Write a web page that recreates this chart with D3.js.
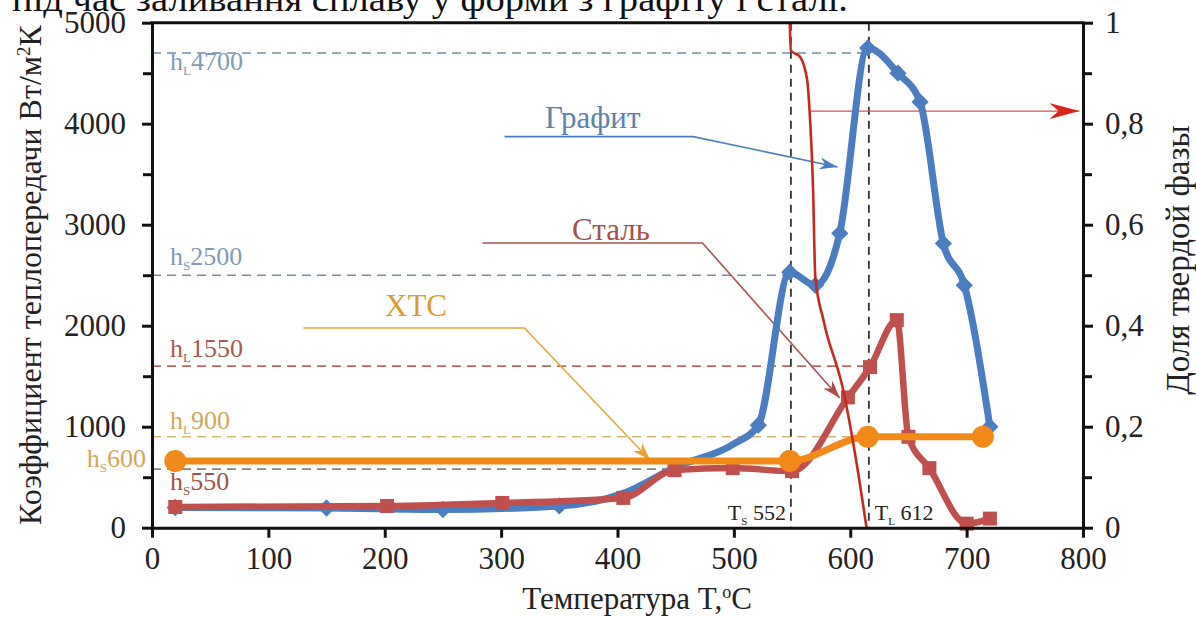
<!DOCTYPE html>
<html><head><meta charset="utf-8">
<script src="https://cdn.jsdelivr.net/npm/d3@7"></script>
<style>
html,body{margin:0;padding:0;background:#fff;}
svg{display:block;}
text{font-family:"Liberation Serif","Times New Roman",serif;}
</style></head>
<body>
<svg id="chart" width="1196" height="617"></svg>
<script>
// ---------- data ----------
const xTicks = [0,100,200,300,400,500,600,700,800];
const yTicks = [0,1000,2000,3000,4000,5000];
const yMinor = [500,1500,2500,3500,4500];
const y2Ticks = [0,0.2,0.4,0.6,0.8,1];
const y2Labels = ["0","0,2","0,4","0,6","0,8","1"];
const y2Minor = [0.1,0.3,0.5,0.7,0.9];

const graphiteT    = [20,150,250,350,405,450,500,521,548,570,591,615,641,660,680,698,720];
const graphiteH    = [200,195,180,215,340,600,830,1015,2530,2400,2915,4750,4500,4215,2815,2400,1000];
const graphiteMark = [1,1,1,1,0,0,0,1,1,1,1,1,1,1,1,1,1];

const steelT = [20,202,301,405,449,499,550,598,617,640,650,668,700,720];
const steelH = [205,215,245,295,570,590,560,1290,1590,2055,900,590,40,90];

const xtsT = [20,548,615,714];
const xtsH = [660,660,900,900];

const fracT = [548,549,557,563,565,568,570,577,594,604,614];
const fracV = [1.0,0.945,0.932,0.886,0.827,0.674,0.496,0.411,0.272,0.148,0.0];

const refH = [4700,2500,1600,900,580];
const refEndT = [615,549,616,616,549];
const refColors = ["#6f8fb0","#6f8fb0","#b86a62","#d6b77a","#8f8078"];

const TsT = 549, TlT = 616;

// ---------- setup ----------
const svg = d3.select("#chart");
const x = d3.scaleLinear().domain([0,800]).range([152,1083]);
const y = d3.scaleLinear().domain([0,5000]).range([527.7,22.7]);
const y2 = d3.scaleLinear().domain([0,1]).range([527.7,22.7]);

const BLUE="#4a7ec0", RED="#c0504d", ORANGE="#f28a1a", FRAC="#c8281e";

// partially visible heading line at the very top
svg.append("text").attr("x",12).attr("y",11).attr("font-size",36).attr("fill","#111")
  .attr("textLength",836).attr("lengthAdjust","spacingAndGlyphs")
  .text("під час заливання сплаву у форми з графіту і сталі.");

// ---------- reference dashed lines ----------
refH.forEach((h,i)=>{
  svg.append("line").attr("x1",x(0)).attr("x2",x(refEndT[i]))
    .attr("y1",y(h)).attr("y2",y(h))
    .attr("stroke",refColors[i]).attr("stroke-width",1.6).attr("stroke-dasharray","9,6");
});
[TsT,TlT].forEach(t=>{
  svg.append("line").attr("x1",x(t)).attr("x2",x(t)).attr("y1",y(5000)).attr("y2",y(0))
    .attr("stroke","#333").attr("stroke-width",1.8).attr("stroke-dasharray","8,6");
});

// h labels
function hLabel(xp, yp, sub, val, color, anchor){
  const t = svg.append("text").attr("x",xp).attr("y",yp).attr("font-size",26).attr("fill",color)
    .attr("text-anchor",anchor||"start");
  t.append("tspan").text("h");
  t.append("tspan").attr("font-size",13).attr("dy",5).text(sub);
  t.append("tspan").attr("dy",-5).text(val);
}
hLabel(170, y(4700)+17, "L", "4700", "#7f9bb8");
hLabel(170, y(2500)-10, "S", "2500", "#7f9bb8");
hLabel(170, y(1600)-9, "L", "1550", "#a85a50");
hLabel(170, y(900)-8, "L", "900", "#cfa85a");
hLabel(146, y(660)+6, "S", "600", "#cfa85a", "end");
hLabel(170, y(580)+21, "S", "550", "#a85048");

// T labels
function tLabel(xp, sub, val, anchor){
  const t = svg.append("text").attr("x",xp).attr("y",520).attr("font-size",22).attr("fill","#222")
    .attr("text-anchor",anchor);
  t.append("tspan").text("T");
  t.append("tspan").attr("font-size",11).attr("dy",5).text(sub);
  t.append("tspan").attr("dy",-5).text(" "+val);
}
tLabel(x(TsT)-5, "S", "552", "end");
tLabel(x(TlT)+6, "L", "612", "start");

// ---------- arrow markers ----------
const defs = svg.append("defs");
function mk(id,color,w,h){
  defs.append("marker").attr("id",id).attr("viewBox",`${-w} ${-h/2} ${w} ${h}`)
    .attr("refX",0).attr("refY",0).attr("markerWidth",w).attr("markerHeight",h)
    .attr("markerUnits","userSpaceOnUse").attr("orient","auto")
    .append("path").attr("d",`M0,0 L${-w},${-h/2} L${-w*0.7},0 L${-w},${h/2} Z`).attr("fill",color);
}
mk("aBlue",BLUE,18,12);
mk("aRed","#b04a44",18,12);
mk("aOr","#e8a030",18,12);
mk("aFrac","#d8261a",30,16);

function leader(pts,color,marker,w){
  svg.append("path").attr("d",d3.line()(pts.map(p=>[x(p[0]),y(p[1])])))
    .attr("fill","none").attr("stroke",color).attr("stroke-width",w||1.6)
    .attr("marker-end",`url(#${marker})`);
}
leader([[303,3872],[465,3872],[589,3571]],BLUE,"aBlue");
leader([[284,2819],[473,2819],[591,1284]],"#a85650","aRed");
leader([[130,1977],[320,1977],[428,670]],"#e8a838","aOr");
svg.append("path").attr("d",d3.line()([[x(565),y2(0.825)],[x(797),y2(0.825)]]))
  .attr("stroke","#d8504a").attr("stroke-width",1.2).attr("fill","none").attr("marker-end","url(#aFrac)");

// annotation labels
svg.append("text").attr("x",545).attr("y",128).attr("font-size",31).attr("fill","#5d82ad").text("Графит");
svg.append("text").attr("x",572).attr("y",240).attr("font-size",31).attr("fill","#a8504a").text("Сталь");
svg.append("text").attr("x",385).attr("y",316).attr("font-size",31).attr("fill","#e09a2a").text("ХТС");

// ---------- series ----------
const lineGen = d3.line().curve(d3.curveMonotoneX);
const gData = graphiteT.map((t,i)=>[x(t),y(graphiteH[i]),graphiteMark[i]]);
const sData = steelT.map((t,i)=>[x(t),y(steelH[i])]);
const oData = xtsT.map((t,i)=>[x(t),y(xtsH[i])]);
const fData = fracT.map((t,i)=>[x(t),y2(fracV[i])]);

// graphite
svg.append("path").attr("d",lineGen(gData.map(d=>[d[0],d[1]]))).attr("fill","none").attr("stroke",BLUE)
  .attr("stroke-width",7).attr("stroke-linejoin","round");
svg.selectAll(".gm").data(gData.filter(d=>d[2])).enter().append("path")
  .attr("d",d3.symbol().type(d3.symbolDiamond2).size(190)())
  .attr("transform",d=>`translate(${d[0]},${d[1]})`).attr("fill",BLUE);

// steel
svg.append("path").attr("d",lineGen(sData)).attr("fill","none").attr("stroke",RED)
  .attr("stroke-width",6.5).attr("stroke-linejoin","round");
svg.selectAll(".sm").data(sData).enter().append("rect")
  .attr("x",d=>d[0]-7).attr("y",d=>d[1]-7).attr("width",14).attr("height",14).attr("fill",RED);

// XTS
svg.append("path").attr("d",d3.line().curve(d3.curveMonotoneX)(oData)).attr("fill","none").attr("stroke",ORANGE)
  .attr("stroke-width",7);
svg.selectAll(".om").data(oData).enter().append("circle")
  .attr("cx",d=>d[0]).attr("cy",d=>d[1]).attr("r",11).attr("fill",ORANGE);

// solid fraction
svg.append("path").attr("d",d3.line().curve(d3.curveMonotoneX)(fData)).attr("fill","none")
  .attr("stroke",FRAC).attr("stroke-width",2.6);

// ---------- axes ----------
const axW = 3;
function styleAxis(g){
  g.select(".domain").attr("stroke","#111").attr("stroke-width",axW);
  g.selectAll(".tick line").attr("stroke","#111").attr("stroke-width",axW);
  g.selectAll("text").attr("font-family",'"Liberation Serif","Times New Roman",serif')
    .attr("font-size",31).attr("fill","#222");
}
const gx = svg.append("g").attr("transform",`translate(0,${y(0)})`)
  .call(d3.axisBottom(x).tickValues(xTicks).tickSize(10).tickSizeOuter(0).tickPadding(9).tickFormat(d3.format("d")));
styleAxis(gx);
const gy = svg.append("g").attr("transform",`translate(${x(0)},0)`)
  .call(d3.axisLeft(y).tickValues(yTicks).tickSize(10).tickSizeOuter(0).tickPadding(16).tickFormat(d3.format("d")));
styleAxis(gy);
const gyMin = svg.append("g").attr("transform",`translate(${x(0)},0)`)
  .call(d3.axisLeft(y).tickValues(yMinor).tickSize(9).tickFormat(""));
styleAxis(gyMin); gyMin.select(".domain").remove();
const gy2 = svg.append("g").attr("transform",`translate(${x(800)},0)`)
  .call(d3.axisRight(y2).tickValues(y2Ticks).tickSize(10).tickSizeOuter(0).tickPadding(12)
    .tickFormat((d,i)=>y2Labels[i]));
styleAxis(gy2);
const gy2Min = svg.append("g").attr("transform",`translate(${x(800)},0)`)
  .call(d3.axisRight(y2).tickValues(y2Minor).tickSize(9).tickFormat(""));
styleAxis(gy2Min); gy2Min.select(".domain").remove();
// top border
svg.append("line").attr("x1",x(0)-1.5).attr("x2",x(800)+1.5).attr("y1",y(5000)).attr("y2",y(5000))
  .attr("stroke","#111").attr("stroke-width",axW);

// axis titles
svg.append("text").attr("x",637).attr("y",609).attr("text-anchor","middle").attr("font-size",31).attr("fill","#222")
  .html('Температура T,<tspan dy="-11" font-size="18">o</tspan><tspan dy="11">C</tspan>');
svg.append("text").attr("transform","translate(41,275) rotate(-90)").attr("text-anchor","middle")
  .attr("font-size",32).attr("fill","#222")
  .html('Коэффициент теплопередачи Вт/м<tspan dy="-11" font-size="19">2</tspan><tspan dy="11">К</tspan>');
svg.append("text").attr("transform","translate(1189,260) rotate(-90)").attr("text-anchor","middle")
  .attr("font-size",33).attr("fill","#222").text("Доля твердой фазы");
</script>
</body></html>
